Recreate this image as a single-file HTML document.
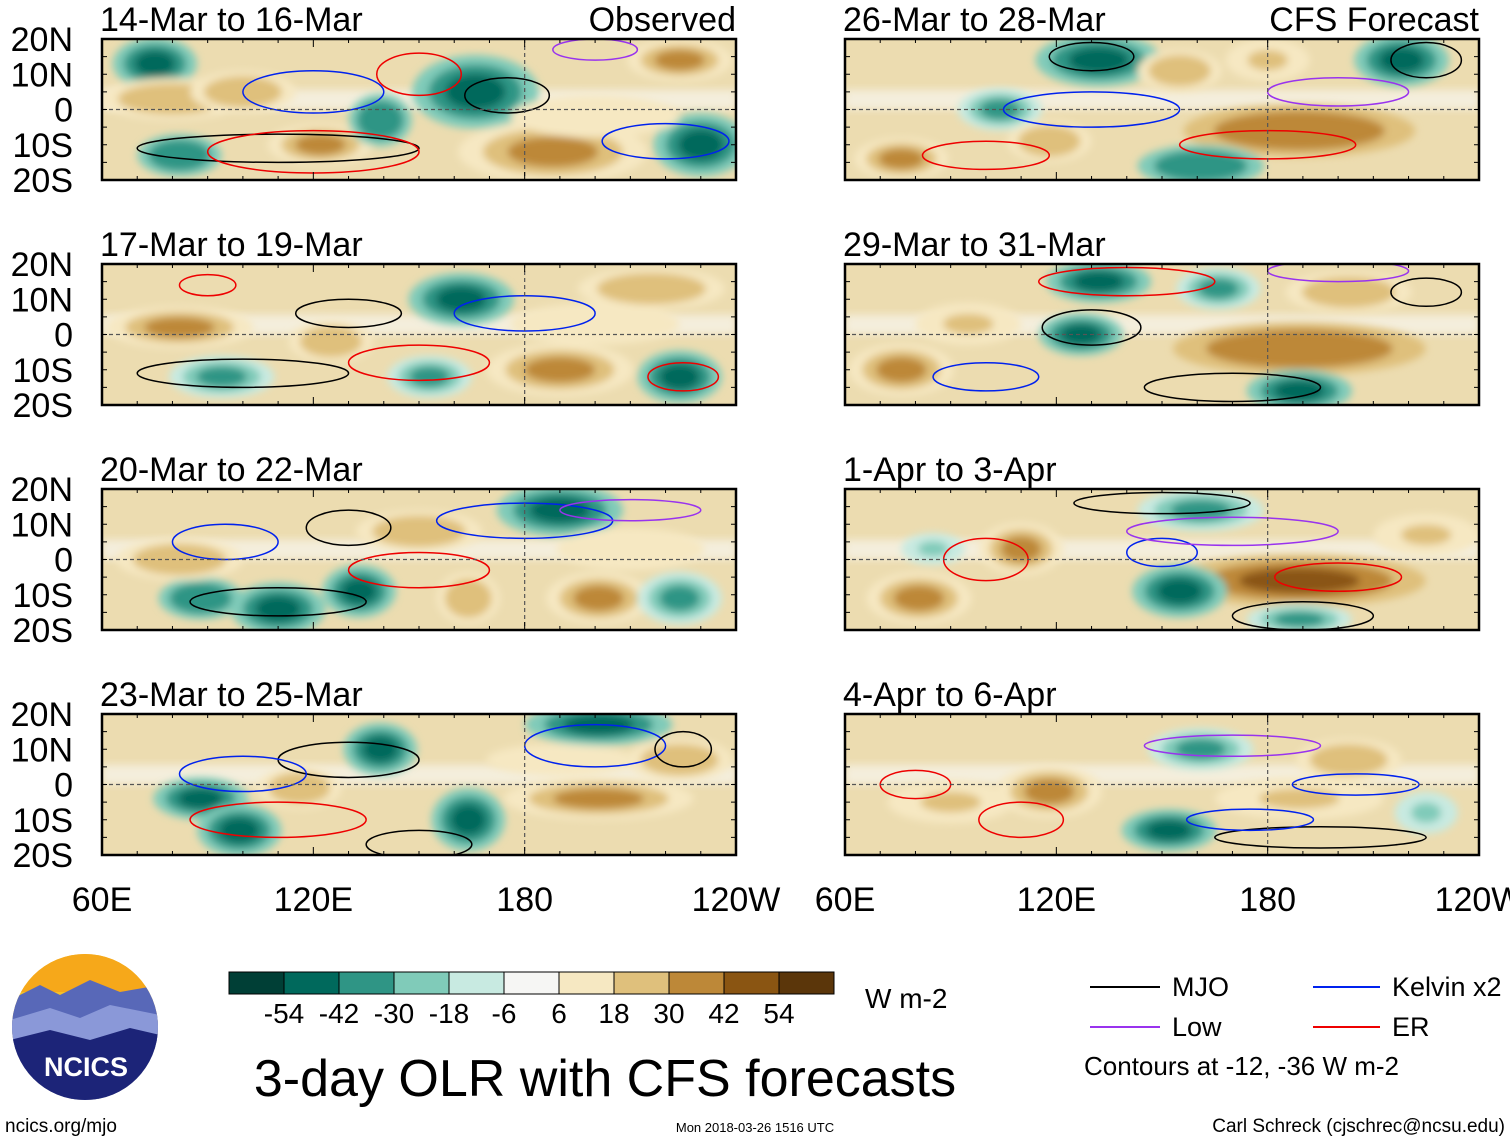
<!DOCTYPE html>
<html><head><meta charset="utf-8"><style>
body{margin:0;background:#fff;width:1510px;height:1142px;overflow:hidden;font-family:"Liberation Sans",sans-serif}
svg text{font-family:"Liberation Sans",sans-serif}
</style></head><body>
<svg id="fig" width="1510" height="1142" xmlns="http://www.w3.org/2000/svg">
<defs>
<filter id="blur" x="-30%" y="-30%" width="160%" height="160%"><feGaussianBlur stdDeviation="4"/></filter>
<clipPath id="cp"><rect x="0" y="0" width="634" height="141"/></clipPath>
</defs>
</svg>
<script>
const panelTitles=["14-Mar to 16-Mar","17-Mar to 19-Mar","20-Mar to 22-Mar","23-Mar to 25-Mar","26-Mar to 28-Mar","29-Mar to 31-Mar","1-Apr to 3-Apr","4-Apr to 6-Apr"];
const latTicks=["20N","10N","0","10S","20S"];
const lonTicks=["60E","120E","180","120W"];
const cbLabels=["-54","-42","-30","-18","-6","6","18","30","42","54"];
const cbColors=["#003f36","#00695c","#2f9585","#80cbb9","#c8eae1","#f6f6f4","#f6e8c2","#dfc07c","#bd8838","#8a5512","#5b360a"];
// blobs: [lon, lat, value, rxDeg, ryDeg]
const blobs=[
[[75,13,-45,8,5],[80,3,30,14,4],[100,5,25,10,4],[166,5,-50,12,7],[122,-10,35,10,4],[188,-12,38,18,6],[230,-10,-45,9,6],[224,14,35,10,4],[82,-13,-40,8,4],[139,-3,-40,6,5],[200,-2,15,16,4]],
[[162,10,-48,10,5],[82,2,35,14,4],[190,-10,35,14,5],[216,13,28,14,4],[224,-12,-42,8,5],[153,-12,-35,8,4],[94,-12,-30,10,4],[125,-2,28,8,4],[200,3,18,16,4]],
[[190,14,-50,12,5],[110,-14,-50,9,5],[88,-11,-40,8,4],[133,-9,-42,7,5],[82,0,28,12,4],[201,-11,32,10,5],[150,8,25,12,4],[224,-11,-35,8,5],[164,-11,30,6,5],[210,3,15,14,4]],
[[201,17,-52,14,4],[139,10,-45,7,5],[88,-4,-48,9,4],[99,-13,-48,8,5],[164,-10,-45,7,6],[201,-4,33,18,4],[116,-1,30,8,4],[224,7,28,10,4],[190,7,15,14,3]],
[[132,14,-50,12,5],[218,14,-45,9,5],[189,-6,42,22,5],[104,0,-35,8,4],[161,-16,-40,12,4],[155,11,30,8,4],[76,-14,32,9,4],[118,-9,28,8,4],[180,14,20,8,4]],
[[132,15,-45,10,4],[127,0,-45,8,4],[189,-4,42,24,5],[76,-10,33,10,5],[189,-16,-42,10,4],[203,12,30,12,4],[166,13,-35,8,4],[95,3,20,10,4]],
[[189,-6,46,24,5],[155,-9,-42,9,5],[110,3,35,8,5],[81,-11,33,10,5],[161,14,-30,12,4],[189,-17,-38,10,3],[225,7,22,10,4],[85,3,-20,6,3]],
[[118,-2,32,10,5],[152,-13,-42,9,4],[161,10,-30,10,4],[203,7,28,10,4],[189,-4,22,16,4],[90,-5,20,12,4],[225,-8,-20,6,4]]
];
// contours: [lon, lat, rxDeg, ryDeg, type]
const contours=[
[[110,-11,40,4,"mjo"],[175,4,12,5,"mjo"],[120,5,20,6,"kel"],[220,-9,18,5,"kel"],[120,-12,30,6,"er"],[200,17,12,3,"low"],[150,10,12,6,"er"]],
[[100,-11,30,4,"mjo"],[130,6,15,4,"mjo"],[225,-12,10,4,"er"],[180,6,20,5,"kel"],[150,-8,20,5,"er"],[90,14,8,3,"er"]],
[[130,9,12,5,"mjo"],[110,-12,25,4,"mjo"],[180,11,25,5,"kel"],[150,-3,20,5,"er"],[95,5,15,5,"kel"],[210,14,20,3,"low"]],
[[130,7,20,5,"mjo"],[150,-17,15,4,"mjo"],[200,11,20,6,"kel"],[110,-10,25,5,"er"],[100,3,18,5,"kel"],[225,10,8,5,"mjo"]],
[[130,15,12,4,"mjo"],[225,14,10,5,"mjo"],[130,0,25,5,"kel"],[180,-10,25,4,"er"],[100,-13,18,4,"er"],[200,5,20,4,"low"]],
[[130,2,14,5,"mjo"],[225,12,10,4,"mjo"],[140,15,25,4,"er"],[100,-12,15,4,"kel"],[200,18,20,3,"low"],[170,-15,25,4,"mjo"]],
[[150,16,25,3,"mjo"],[190,-16,20,4,"mjo"],[150,2,10,4,"kel"],[100,0,12,6,"er"],[170,8,30,4,"low"],[200,-5,18,4,"er"]],
[[170,11,25,3,"low"],[195,-15,30,3,"mjo"],[110,-10,12,5,"er"],[80,0,10,4,"er"],[175,-10,18,3,"kel"],[205,0,18,3,"kel"]]
];
const strokeOf={mjo:"#000",kel:"#0022ee",er:"#ee0000",low:"#9933ee"};
function colorOf(v){const edges=[-54,-42,-30,-18,-6,6,18,30,42,54];let i=0;while(i<edges.length&&v>edges[i])i++;return cbColors[i];}
const NS="http://www.w3.org/2000/svg";
const svg=document.getElementById('fig');
function mk(tag,attrs,parent,txt){const e=document.createElementNS(NS,tag);for(const k in attrs)e.setAttribute(k,attrs[k]);if(txt!==undefined)e.textContent=txt;(parent||svg).appendChild(e);return e;}
const PW=634,PH=141,S=1.3;
const xOf=lon=>(lon-60)/180*PW;
const yOf=lat=>(20-lat)/40*PH;
const panelX=[102,845],panelY=[39,264,489,714];
for(let p=0;p<8;p++){
  const col=p<4?0:1,row=p%4;
  const g=mk('g',{transform:`translate(${panelX[col]},${panelY[row]})`});
  
  
  const inner=mk('g',{'clip-path':'url(#cp)'},g);
  mk('rect',{x:0,y:0,width:PW,height:PH,fill:'#ecdcb0'},inner);
  mk('rect',{x:0,y:PH*0.36,width:PW,height:PH*0.14,fill:'#f4eedc',filter:'url(#blur)'},inner);
  const bg=mk('g',{filter:'url(#blur)'},inner);
  blobs[p].forEach(b=>{
    const e=mk('ellipse',{cx:xOf(b[0]),cy:yOf(b[1]),rx:b[3]*PW/180*1.15*S,ry:b[4]*PH/40*1.15*S,fill:colorOf(b[2]*0.45)},bg);
    
    
    const e1=mk('ellipse',{cx:xOf(b[0]),cy:yOf(b[1]),rx:b[3]*PW/180*0.85*S,ry:b[4]*PH/40*0.85*S,fill:colorOf(b[2]*0.75)},bg);
    
    
    const e2=mk('ellipse',{cx:xOf(b[0]),cy:yOf(b[1]),rx:b[3]*PW/180*0.55*S,ry:b[4]*PH/40*0.55*S,fill:colorOf(b[2])},bg);
    
    
  });
  contours[p].forEach(c=>{
    const e=mk('ellipse',{cx:xOf(c[0]),cy:yOf(c[1]),rx:c[2]*PW/180,ry:c[3]*PH/40,fill:'none',stroke:strokeOf[c[4]],'stroke-width':1.5},inner);
    
    
  });
  mk('line',{x1:0,x2:PW,y1:yOf(0),y2:yOf(0),stroke:'#555','stroke-dasharray':'4,3','stroke-width':1.2},g);
  mk('line',{x1:xOf(180),x2:xOf(180),y1:0,y2:PH,stroke:'#555','stroke-dasharray':'4,3','stroke-width':1.2},g);
  mk('rect',{x:0,y:0,width:PW,height:PH,fill:'none',stroke:'#000','stroke-width':2.5},g);
  for(let lon=60;lon<=240;lon+=10){const x=xOf(lon),L=lon%60===0?8:4;mk('line',{x1:x,x2:x,y1:0,y2:L,stroke:'#000'},g);mk('line',{x1:x,x2:x,y1:PH,y2:PH-L,stroke:'#000'},g);}
  for(let lat=-20;lat<=20;lat+=5){const y=yOf(lat);mk('line',{x1:0,x2:5,y1:y,y2:y,stroke:'#000'},g);mk('line',{x1:PW,x2:PW-5,y1:y,y2:y,stroke:'#000'},g);}
  const t=mk('text',{x:-2,y:-8,'font-size':34,fill:'#000'},g,panelTitles[p]);
  
  
  if(col===0){latTicks.forEach((l,i)=>{const tt=mk('text',{x:-29,y:i*PH/4+12,'font-size':34,'text-anchor':'end'},g,l);
    
    });}
}
const lab1=mk('text',{x:736,y:31,'font-size':34,'text-anchor':'end'},svg,"Observed");


const lab2=mk('text',{x:1479,y:31,'font-size':34,'text-anchor':'end'},svg,"CFS Forecast");


[0,1].forEach(col=>lonTicks.forEach((l,i)=>{const t=mk('text',{x:panelX[col]+i*PW/3,y:911,'font-size':34,'text-anchor':'middle'},svg,l);
  
  }));
cbColors.forEach((c,i)=>{const r=mk('rect',{x:229+i*55,y:972,width:55,height:22,fill:c,stroke:'#000','stroke-width':1});
  
  });
cbLabels.forEach((l,i)=>{const t=mk('text',{x:284+i*55,y:1023,'font-size':28,'text-anchor':'middle'},svg,l);
  
  });
</script>
<svg style="position:absolute;left:0;top:0" width="1510" height="1142" xmlns="http://www.w3.org/2000/svg">
<text x="865" y="1008" font-size="28">W m-2</text>
<text x="605" y="1096" font-size="52" text-anchor="middle">3-day OLR with CFS forecasts</text>
<g>
<line x1="1090" x2="1160" y1="987" y2="987" stroke="#000" stroke-width="2"/><text x="1172" y="996" font-size="27">MJO</text>
<line x1="1090" x2="1160" y1="1027" y2="1027" stroke="#9933ee" stroke-width="2"/><text x="1172" y="1036" font-size="27">Low</text>
<line x1="1313" x2="1380" y1="987" y2="987" stroke="#0022ee" stroke-width="2"/><text x="1392" y="996" font-size="27">Kelvin x2</text>
<line x1="1313" x2="1380" y1="1027" y2="1027" stroke="#ee0000" stroke-width="2"/><text x="1392" y="1036" font-size="27">ER</text>
<text x="1084" y="1075" font-size="26">Contours at -12, -36 W m-2</text>
</g>
<g>
<clipPath id="lc"><circle cx="85" cy="1027" r="73"/></clipPath>
<g clip-path="url(#lc)">
<rect x="10" y="952" width="150" height="150" fill="#f5c02a"/>
<rect x="10" y="952" width="150" height="40" fill="#f6a81a"/>
<path d="M10 1000 L40 985 L60 995 L90 980 L120 992 L160 985 L160 1102 L10 1102Z" fill="#5868b8"/>
<path d="M10 1020 L50 1008 L80 1018 L110 1005 L160 1015 L160 1102 L10 1102Z" fill="#8a98d8"/>
<path d="M10 1040 L50 1030 L90 1040 L130 1028 L160 1035 L160 1102 L10 1102Z" fill="#1c2478"/>
</g>
<text x="86" y="1076" font-size="27" font-weight="bold" fill="#fff" text-anchor="middle">NCICS</text>
</g>
<text x="5" y="1132" font-size="19">ncics.org/mjo</text>
<text x="755" y="1132" font-size="13" text-anchor="middle">Mon 2018-03-26 1516 UTC</text>
<text x="1505" y="1132" font-size="19" text-anchor="end">Carl Schreck (cjschrec@ncsu.edu)</text>
</svg>
</body></html>
